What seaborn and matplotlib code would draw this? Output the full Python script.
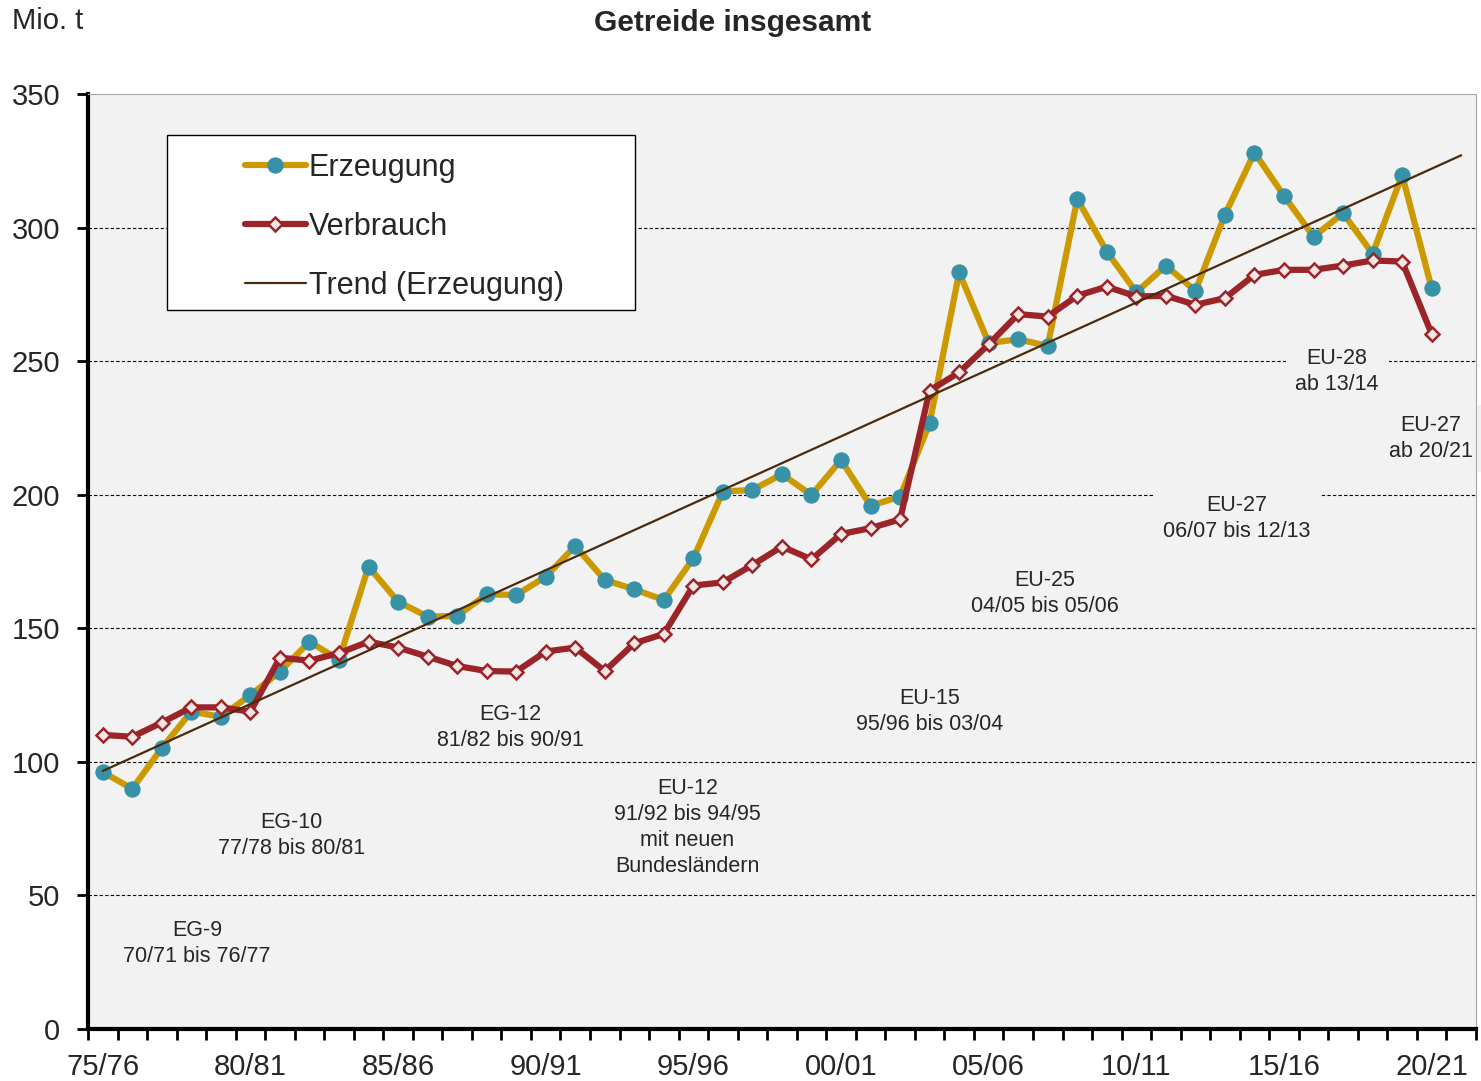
import numpy as np
import pandas as pd
import matplotlib.pyplot as plt
import seaborn as sns
from matplotlib.patches import Rectangle

# seasons 75/76 .. 20/21
seasons = [f"{y % 100:02d}/{(y + 1) % 100:02d}" for y in range(1975, 2021)]

# Mio. t
erzeugung = [96.2, 89.9, 105.2, 118.8, 116.9, 125.0, 133.8, 145.0, 138.2, 173.1,
             160.0, 154.4, 154.6, 162.7, 162.5, 169.3, 180.8, 168.1, 164.6, 160.6,
             176.2, 201.2, 201.8, 207.7, 199.9, 213.0, 195.9, 199.3, 226.8, 283.2,
             256.8, 258.2, 255.7, 310.7, 291.0, 275.8, 285.8, 276.3, 304.8, 328.1,
             311.9, 296.6, 305.4, 290.2, 319.7, 277.3]
verbrauch = [110.1, 109.4, 114.7, 120.4, 120.4, 118.8, 139.0, 137.9, 140.7, 145.0,
             142.8, 139.4, 135.9, 134.0, 133.8, 141.3, 142.8, 134.0, 144.4, 147.9,
             166.0, 167.2, 173.7, 180.6, 175.8, 185.3, 187.5, 190.8, 239.0, 245.8,
             256.3, 267.6, 266.7, 274.5, 277.9, 274.2, 274.5, 271.1, 273.6, 282.3,
             284.2, 284.2, 285.8, 287.7, 287.3, 260.2]

tick_labels = seasons[::5]

# member state phases: (text, x position, y position)
phase_texts = ["EG-9\n70/71 bis 76/77", "EG-10\n77/78 bis 80/81", "EG-12\n81/82 bis 90/91",
               "EU-12\n91/92 bis 94/95\nmit neuen\nBundesländern", "EU-15\n95/96 bis 03/04",
               "EU-25\n04/05 bis 05/06", "EU-27\n06/07 bis 12/13", "EU-28\nab 13/14",
               "EU-27\nab 20/21"]
phase_x = [3.2, 6.4, 13.8, 19.8, 28.0, 31.9, 38.4, 41.8, 44.96]
phase_y = [32, 72.5, 113, 75.5, 119, 163, 191, 246, 221]

df = pd.DataFrame({"pos": np.arange(len(seasons)), "season": seasons,
                   "Erzeugung": erzeugung, "Verbrauch": verbrauch})

sns.set_style("white")
plt.rcParams['font.family'] = ['Liberation Sans', 'DejaVu Sans']

fig = plt.figure(figsize=(14.81, 10.81), dpi=100)
ax = fig.add_axes([0.0594, 0.0481, 0.9372, 0.8649])
ax.set_facecolor('#f2f2f2')

# production and consumption
sns.lineplot(data=df, x="pos", y="Erzeugung", ax=ax, color='#cc9900', lw=4.5,
             marker='o', markersize=11, markerfacecolor='#3792a8',
             markeredgecolor='#3792a8', label="Erzeugung", legend=False, zorder=3)
sns.lineplot(data=df, x="pos", y="Verbrauch", ax=ax, color='#9a2428', lw=4.5,
             marker='D', markersize=7.5, markerfacecolor='#f3e6e6',
             markeredgecolor='#9a2428', markeredgewidth=1.8,
             label="Verbrauch", legend=False, zorder=4)

# linear trend of production, extended one season
coef = np.polyfit(df["pos"], df["Erzeugung"], 1)
trend_x = np.arange(len(seasons) + 1)
sns.lineplot(x=trend_x, y=np.polyval(coef, trend_x), ax=ax, color='#4a2a0c', lw=1.6,
             label="Trend (Erzeugung)", legend=False, zorder=5)

ax.set_xlim(-0.5, len(seasons) + 0.5)
ax.set_ylim(0, 350)
ax.set_xlabel("")
ax.set_ylabel("")

ax.set_xticks(np.arange(-0.5, len(seasons) + 1, 1))
ax.set_xticklabels([])
ax.set_xticks(np.arange(0, len(seasons), 5), minor=True)
ax.set_xticklabels(tick_labels, minor=True)
ax.tick_params(axis='x', which='major', direction='out', length=8, width=2, color='black',
               bottom=True)
ax.tick_params(axis='x', which='minor', length=0, labelsize=21, pad=17)
ax.set_yticks(range(0, 351, 50))
ax.tick_params(axis='y', direction='out', length=8, width=2, color='black', left=True,
               labelsize=21, pad=12)

ax.yaxis.grid(True, linestyle=(0, (3, 2)), color='black', lw=0.8)
ax.set_axisbelow(True)
ax.get_ygridlines()[-1].set_visible(False)

for side in ['left', 'bottom']:
    ax.spines[side].set_linewidth(3)
    ax.spines[side].set_color('black')
for side in ['top', 'right']:
    ax.spines[side].set_linewidth(0.8)
    ax.spines[side].set_color('#a6a6a6')

for txt, x, y in zip(phase_texts, phase_x, phase_y):
    ax.text(x, y, txt, ha='center', va='center', fontsize=15.5, linespacing=1.32,
            color='#262626', zorder=2,
            bbox=dict(facecolor='#f2f2f2', edgecolor='none', pad=7))

# legend
ax.add_patch(Rectangle((0.0569, 0.769), 0.337, 0.187, transform=ax.transAxes,
                       facecolor='white', edgecolor='black', lw=1, zorder=6))
handles, labels = ax.get_legend_handles_labels()
leg = ax.legend(handles, labels, loc='upper left', bbox_to_anchor=(0.113, 0.937),
                frameon=False, fontsize=22, handlelength=2.0, handletextpad=0.1,
                labelspacing=0.95, borderpad=0, borderaxespad=0)
leg.set_zorder(7)

fig.text(0.495, 0.979, "Getreide insgesamt", ha='center', va='center',
         fontsize=21.5, fontweight='bold')
fig.text(0.008, 0.981, "Mio. t", ha='left', va='center', fontsize=21)

plt.savefig("out.png", dpi=100)
